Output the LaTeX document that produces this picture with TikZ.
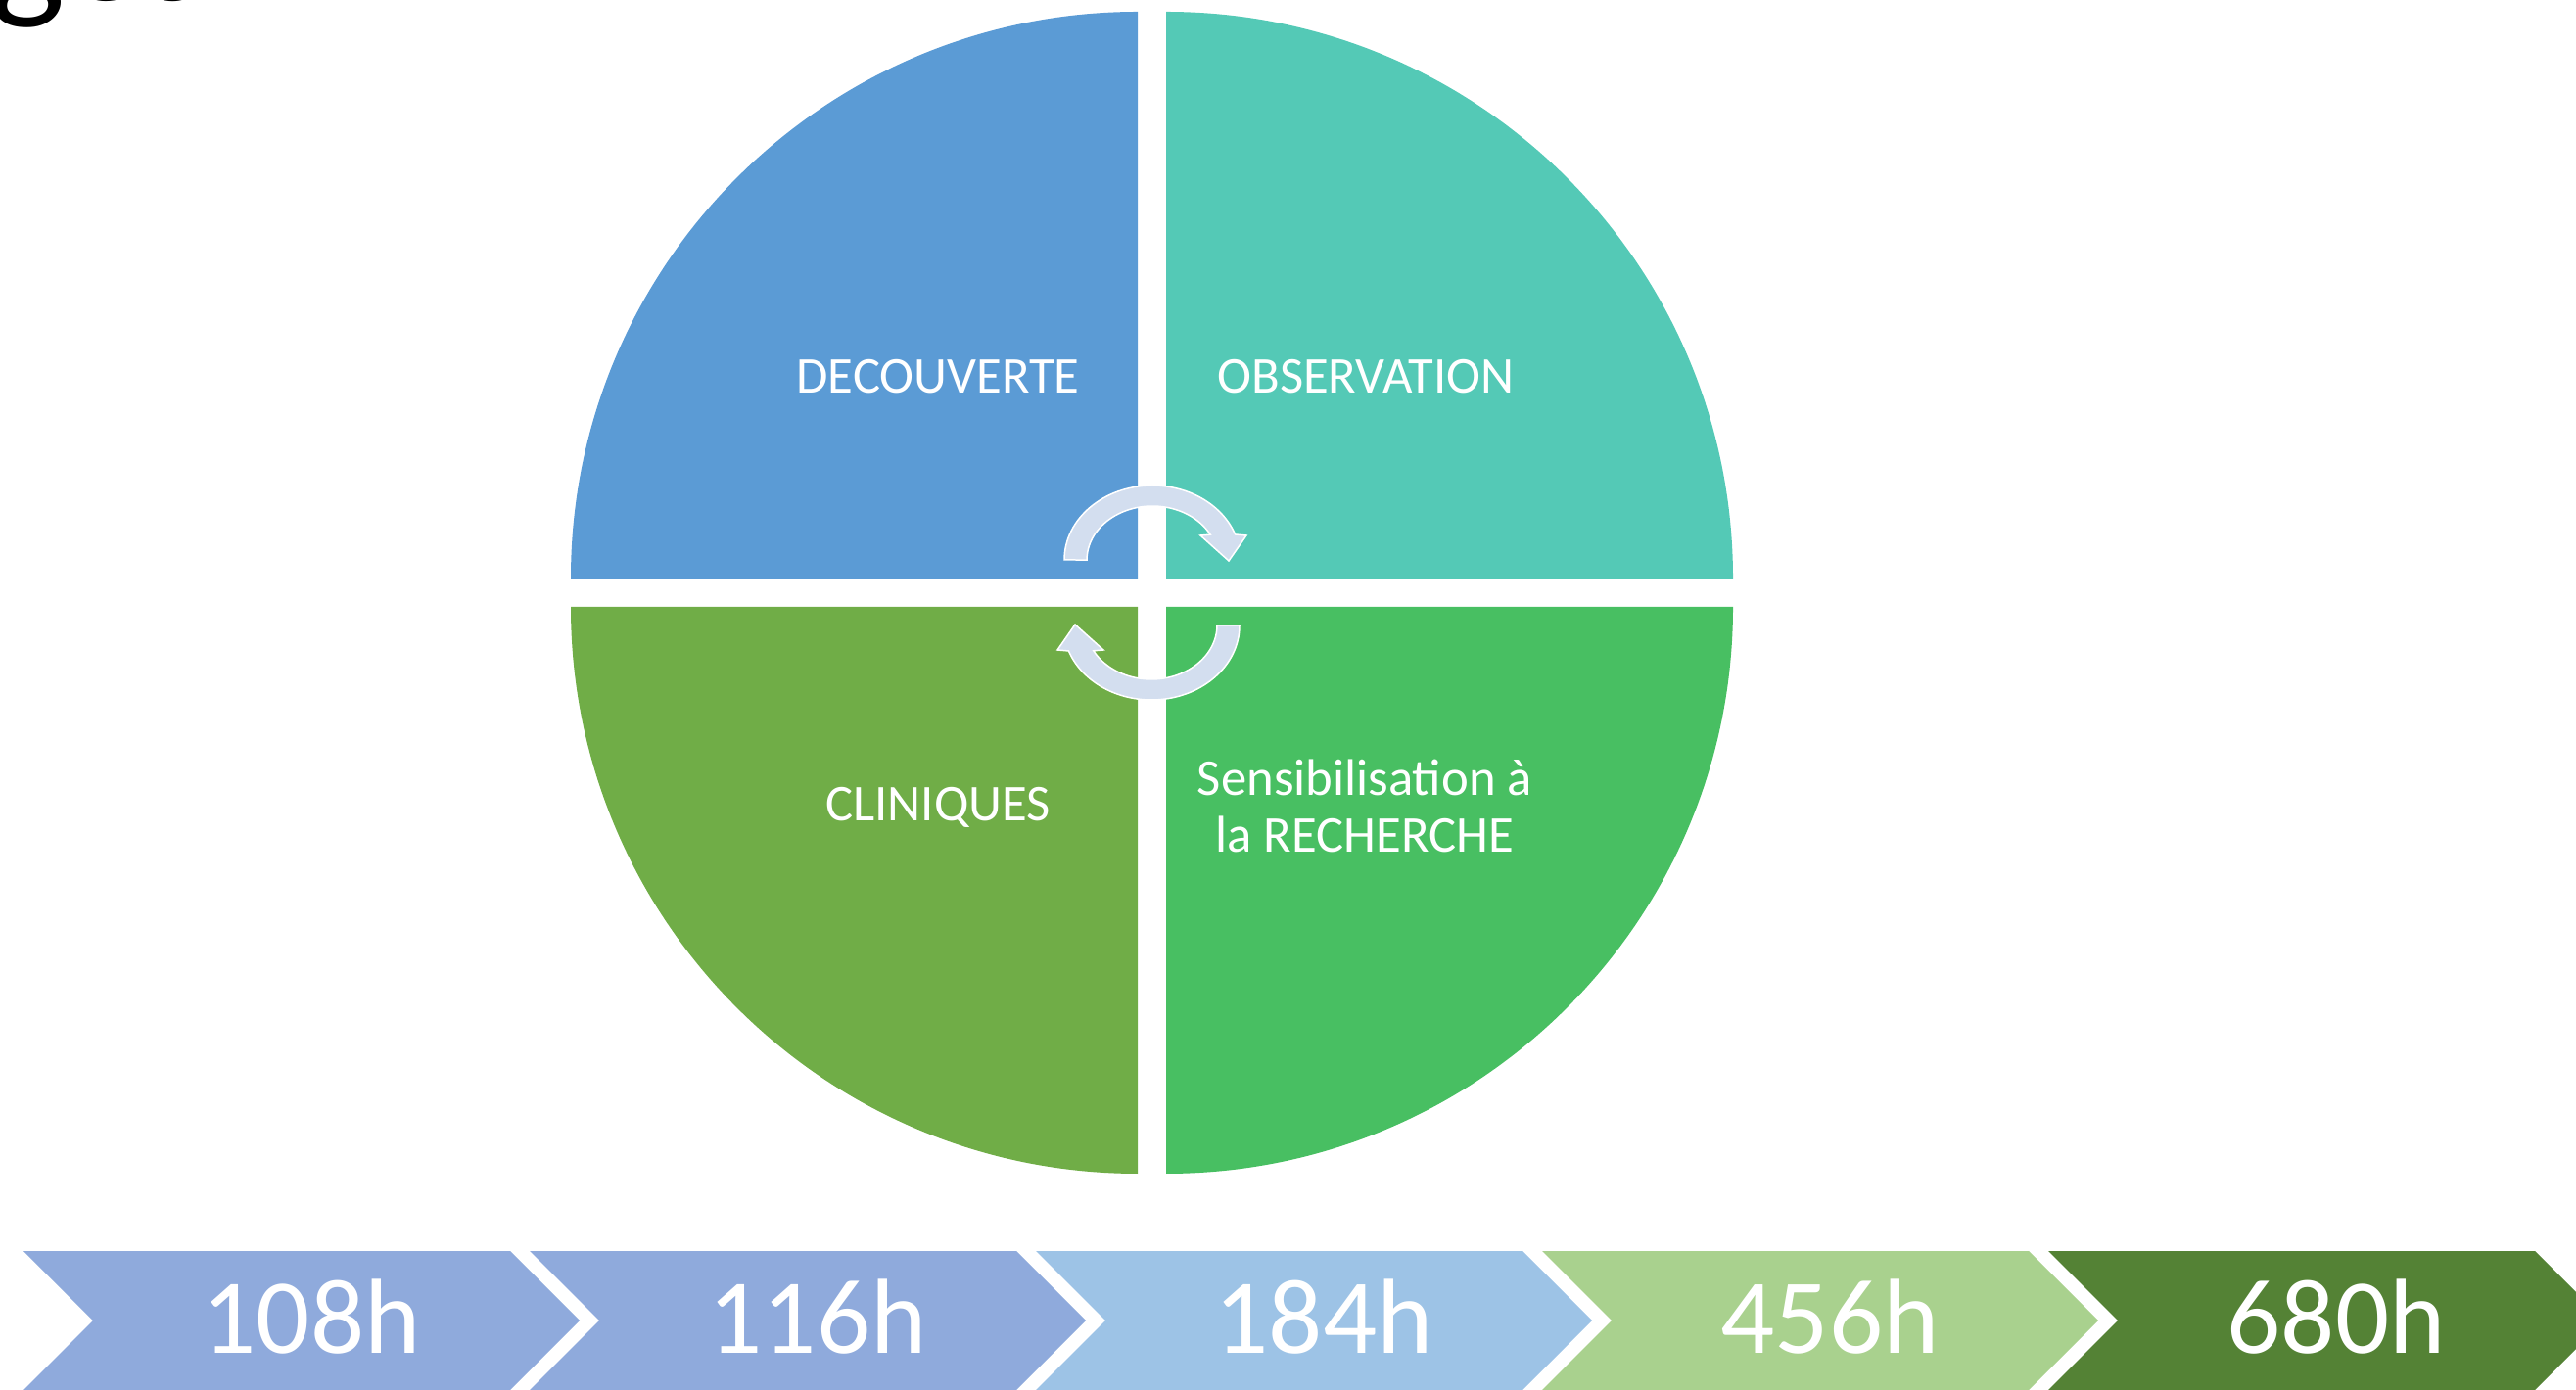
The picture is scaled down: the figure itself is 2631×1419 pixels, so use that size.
\documentclass[tikz,border=0pt]{standalone}
\usepackage{fontspec}
\setmainfont{Carlito}
\definecolor{qtl}{HTML}{5B9BD5}
\definecolor{qtr}{HTML}{54C9B6}
\definecolor{qbl}{HTML}{70AD47}
\definecolor{qbr}{HTML}{48BF62}
\definecolor{turnfill}{HTML}{D3DEEF}
\definecolor{chevA}{HTML}{8FAADC}
\definecolor{chevB}{HTML}{9DC3E6}
\definecolor{chevC}{HTML}{A9D18E}
\definecolor{chevD}{HTML}{548235}
\begin{document}
\begin{tikzpicture}[x=0.1mm,y=0.1mm,
  lbl/.style={text=white,font=\fontsize{15}{16.5}\selectfont,align=center,inner sep=0},
  hrs/.style={text=white,font=\fontsize{31}{36}\selectfont,inner sep=0,anchor=base},
  turn/.style={fill=turnfill,draw=white,line width=0.15mm}]
\useasboundingbox (0,0) rectangle (2631,1419);
\begin{scope}
\clip (0,0) rectangle (2631,1419);
\node[anchor=base west,inner sep=0,font=\fontsize{46}{50}\selectfont] (title) at (-10,1418) {ges};
\end{scope}

\coordinate (C) at (1176.5,813.5);
\fill[qtl] (1162,828) -- ++(-579,0) arc[start angle=180,end angle=90,radius=579] -- cycle;
\fill[qtr] (1191,828) -- ++(0,579) arc[start angle=90,end angle=0,radius=579] -- cycle;
\fill[qbl] (1162,799) -- ++(-579,0) arc[start angle=180,end angle=270,radius=579] -- cycle;
\fill[qbr] (1191,799) -- ++(579,0) arc[start angle=0,end angle=-90,radius=579] -- cycle;
\node[lbl,anchor=base] (decouverte) at (958,1017) {DECOUVERTE};
\node[lbl,anchor=base] (observation) at (1395,1017) {OBSERVATION};
\node[lbl,anchor=base] (cliniques) at (958,580) {CLINIQUES};
\node[lbl] (recherche) at (1394,596) {Sensibilisation à\\la RECHERCHE};

% circular arrows
\path[turn] (1087,847) arc[start angle=180,end angle=20,x radius=90,y radius=76]
  -- (1273,872) -- (1255,846) -- (1226,872) -- (1236.2,872.8)
  arc[start angle=28,end angle=180,x radius=67,y radius=55] -- cycle;
\path[turn,rotate around={180:(C)}] (1087,847) arc[start angle=180,end angle=20,x radius=90,y radius=76]
  -- (1273,872) -- (1255,846) -- (1226,872) -- (1236.2,872.8)
  arc[start angle=28,end angle=180,x radius=67,y radius=55] -- cycle;

\foreach \t/\c [count=\i from 0] in {108h/chevA,116h/chevA,184h/chevB,456h/chevC,680h/chevD}{
  \fill[\c] ({24+517*\i},141) -- ++(497,0) -- ++(71,-71) -- ++(-71,-71) -- ++(-497,0) -- ++(71,71) -- cycle;
  \node[hrs] (h\i) at ({24+517*\i+294},37) {\t};
}
\end{tikzpicture}
\end{document}
